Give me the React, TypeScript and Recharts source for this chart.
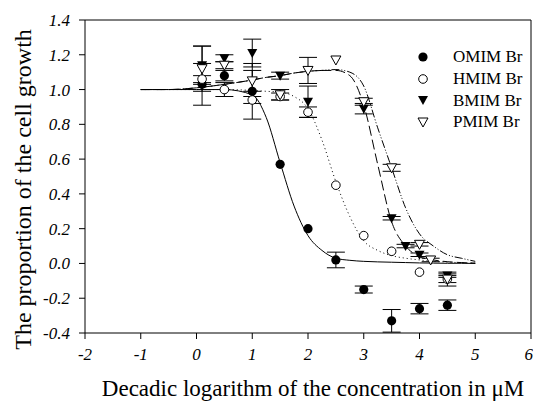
import {
  ComposedChart,
  Line,
  Scatter,
  ErrorBar,
  XAxis,
  YAxis,
  ReferenceLine,
} from 'recharts';

// measured points (log10 concentration, proportion of growth, error; null = no visible bar)
const doseX = [0.1, 0.5, 1, 1.5, 2, 2.5, 3, 3.5, 4, 4.5];
const omimY = [1.03, 1.08, 0.99, 0.57, 0.2, 0.02, -0.15, -0.33, -0.26, -0.24];
const omimErr = [0.12, 0.03, 0.16, null, null, 0.045, 0.02, 0.065, 0.03, 0.03];
const hmimY = [1.06, 1.0, 0.94, 0.96, 0.87, 0.45, 0.16, 0.07, -0.05, -0.09];
const hmimErr = [0.02, 0.04, 0.02, 0.02, 0.03, null, null, null, null, 0.04];

const bmimX = [0.1, 0.5, 1, 1.5, 2, 3, 3.5, 3.75, 4, 4.5];
const bmimY = [1.14, 1.18, 1.21, 1.08, 0.93, 0.89, 0.26, 0.1, 0.05, -0.07];
const bmimErr = [0.11, 0.02, 0.08, 0.02, 0.09, 0.03, 0.01, 0.01, 0.01, 0.01];

const pmimX = [0.1, 0.5, 1, 1.5, 2, 2.5, 3, 3.5, 4, 4.2, 4.5];
const pmimY = [1.12, 1.14, 1.05, 0.97, 1.11, 1.17, 0.93, 0.55, 0.11, 0.02, -0.09];
const pmimErr = [0.13, 0.02, 0.06, 0.03, 0.075, null, 0.02, 0.02, 0.01, 0.01, 0.02];

// fitted curves
const fitX = [-1, -0.5, 0, 0.5, 1, 1.25, 1.5, 1.75, 2, 2.25, 2.5, 2.75, 3, 3.25, 3.5, 3.75, 4, 4.25, 4.5, 4.75, 5];
const omimFit = [1.0, 1.0, 1.0, 1.0, 0.97, 0.84, 0.58, 0.33, 0.16, 0.075, 0.03, 0.018, 0.012, 0.009, 0.007, 0.005, 0.003, 0.002, 0.001, 0.001, 0];
const hmimFit = [1.0, 1.0, 1.0, 1.0, 0.995, 0.99, 0.985, 0.96, 0.89, 0.71, 0.47, 0.27, 0.13, 0.075, 0.045, 0.03, 0.02, 0.012, 0.008, 0.004, 0.002];
const bmimFit = [1.0, 1.0, 1.01, 1.03, 1.055, 1.07, 1.08, 1.095, 1.105, 1.11, 1.11, 1.08, 0.91, 0.57, 0.24, 0.1, 0.04, 0.02, 0.01, 0.005, 0.002];
const pmimFit = [1.0, 1.0, 1.01, 1.03, 1.055, 1.07, 1.08, 1.095, 1.105, 1.11, 1.115, 1.1, 1.02, 0.78, 0.55, 0.32, 0.17, 0.1, 0.05, 0.03, 0.012];

const xTicks = [-2, -1, 0, 1, 2, 3, 4, 5, 6];
const yTicks = [-0.4, -0.2, 0, 0.2, 0.4, 0.6, 0.8, 1.0, 1.2, 1.4];

const FONT = '"Liberation Serif", "Times New Roman", serif';

type Kind = 'dot' | 'circle' | 'tri' | 'otri';

const toPoints = (xs: number[], ys: number[], errs?: (number | null)[]) =>
  xs.map((x, i) => ({ x, y: ys[i], err: errs ? errs[i] : null }));

const series: { name: string; kind: Kind; points: any[]; fit: any[]; dash?: string }[] = [
  { name: 'OMIM Br', kind: 'dot', points: toPoints(doseX, omimY, omimErr), fit: toPoints(fitX, omimFit) },
  { name: 'HMIM Br', kind: 'circle', points: toPoints(doseX, hmimY, hmimErr), fit: toPoints(fitX, hmimFit), dash: '1 3' },
  { name: 'BMIM Br', kind: 'tri', points: toPoints(bmimX, bmimY, bmimErr), fit: toPoints(fitX, bmimFit), dash: '10 4' },
  { name: 'PMIM Br', kind: 'otri', points: toPoints(pmimX, pmimY, pmimErr), fit: toPoints(fitX, pmimFit), dash: '8 2 1 2 1 2' },
];

function Marker({ cx, cy, kind }: { cx: number; cy: number; kind: Kind }) {
  if (cx == null || cy == null) return null;
  switch (kind) {
    case 'dot':
      return <circle cx={cx} cy={cy} r={4.6} fill="#000" />;
    case 'circle':
      return <circle cx={cx} cy={cy} r={4.3} fill="#fff" stroke="#000" strokeWidth={1} />;
    case 'tri':
      return <path d={`M${cx - 5},${cy - 4} L${cx + 5},${cy - 4} L${cx},${cy + 5} Z`} fill="#000" />;
    default:
      return (
        <path
          d={`M${cx - 5},${cy - 4} L${cx + 5},${cy - 4} L${cx},${cy + 5} Z`}
          fill="#fff"
          stroke="#000"
          strokeWidth={1}
        />
      );
  }
}

function LegendBox() {
  return (
    <div
      style={{
        position: 'absolute',
        left: 415,
        top: 46,
        fontFamily: FONT,
        fontSize: 17,
        color: '#000',
        lineHeight: 1,
      }}
    >
      {series.map((s) => (
        <div key={s.name} style={{ display: 'flex', alignItems: 'center', height: 21.7 }}>
          <svg width={16} height={16} style={{ marginRight: 22 }}>
            <Marker cx={8} cy={8} kind={s.kind} />
          </svg>
          <span>{s.name}</span>
        </div>
      ))}
    </div>
  );
}

export default function App() {
  const tickStyle = { fill: '#000', fontSize: 17, fontStyle: 'italic', fontFamily: FONT };
  return (
    <div style={{ position: 'absolute', left: 0, top: 0, width: 533, height: 401, background: '#fff' }}>
      <ComposedChart width={533} height={401} margin={{ top: 20, right: 2, left: 0, bottom: 0 }}>
        <XAxis
          type="number"
          dataKey="x"
          domain={[-2, 6]}
          ticks={xTicks}
          allowDataOverflow
          stroke="#000"
          tickSize={6}
          tickMargin={9}
          height={68}
          tick={tickStyle}
          label={{
            value: 'Decadic logarithm of the concentration in \u03bcM',
            position: 'insideBottom',
            offset: 5,
            dx: 5,
            style: { fill: '#000', fontSize: 23, fontFamily: FONT },
          }}
        />
        <YAxis
          type="number"
          dataKey="y"
          domain={[-0.4, 1.4]}
          ticks={yTicks}
          allowDataOverflow
          stroke="#000"
          tickSize={6}
          tickMargin={9}
          width={85}
          tick={tickStyle}
          tickFormatter={(v: number) => v.toFixed(1)}
          label={{
            value: 'The proportion of the cell growth',
            angle: -90,
            position: 'center',
            dx: -20,
            dy: 13,
            style: { fill: '#000', fontSize: 24, fontFamily: FONT, textAnchor: 'middle' },
          }}
        />
        <ReferenceLine y={1.4} stroke="#000" />
        <ReferenceLine x={6} stroke="#000" />
        {series.map((s) => (
          <Line
            key={`fit-${s.name}`}
            data={s.fit}
            dataKey="y"
            type="monotone"
            stroke="#000"
            strokeWidth={1}
            strokeDasharray={s.dash}
            dot={false}
            activeDot={false}
            legendType="none"
            isAnimationActive={false}
          />
        ))}
        {series.map((s) => (
          <Scatter
            key={`pts-${s.name}`}
            name={s.name}
            data={s.points}
            dataKey="y"
            isAnimationActive={false}
            shape={(p: any) => <Marker cx={p.cx} cy={p.cy} kind={s.kind} />}
          >
            <ErrorBar dataKey="err" direction="y" width={9} stroke="#000" strokeWidth={1} isAnimationActive={false} />
          </Scatter>
        ))}
      </ComposedChart>
      <LegendBox />
    </div>
  );
}
